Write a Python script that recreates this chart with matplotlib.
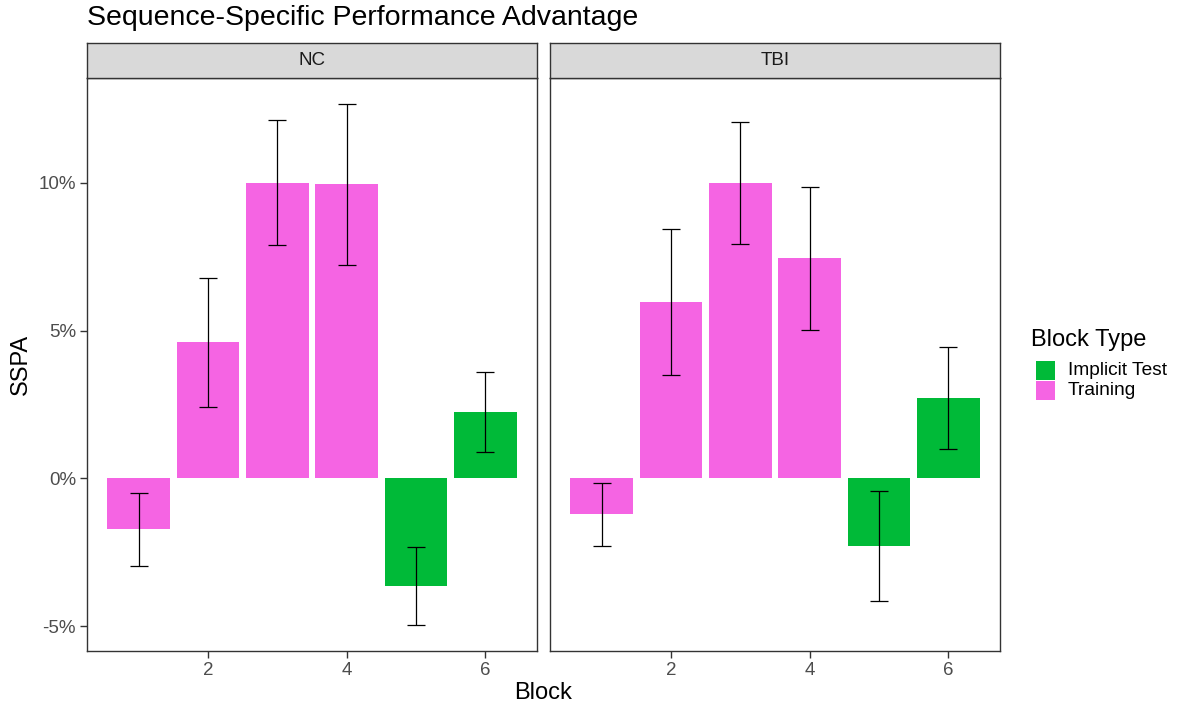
import matplotlib
matplotlib.use("Agg")
import matplotlib.pyplot as plt
from matplotlib.patches import Rectangle
from matplotlib.ticker import FuncFormatter

plt.rcParams['font.family'] = ['Liberation Sans', 'DejaVu Sans']

# Data: mean SSPA (%) and error-bar half-widths per block
blocks = [1, 2, 3, 4, 5, 6]
block_type = ["Training", "Training", "Training", "Training", "Implicit Test", "Implicit Test"]
groups = ["NC", "TBI"]
nc_mean = [-1.73, 4.60, 10.00, 9.94, -3.65, 2.23]
nc_err = [1.24, 2.18, 2.12, 2.72, 1.31, 1.35]
tbi_mean = [-1.22, 5.98, 10.00, 7.44, -2.28, 2.71]
tbi_err = [1.06, 2.47, 2.06, 2.42, 1.86, 1.73]
type_levels = ["Implicit Test", "Training"]
type_colors = {"Implicit Test": "#00BA38", "Training": "#F564E3"}

W, H = 1177, 709
fig = plt.figure(figsize=(W / 100, H / 100), dpi=100)

def fx(px):
    return px / W

def fy(py):
    return 1 - py / H

panel_lr = [(87, 537), (550, 1000)]
top_px, bot_px, strip_top = 78, 651, 43

means = [nc_mean, tbi_mean]
errs = [nc_err, tbi_err]

all_lo = min(min(m - e for m, e in zip(ms, es)) for ms, es in zip(means, errs))
all_hi = max(max(m + e for m, e in zip(ms, es)) for ms, es in zip(means, errs))
pad = 0.05 * (all_hi - all_lo)
ylim = (all_lo - pad, all_hi + pad)
xpad = 0.05 * (6.45 - 0.55)
xlim = (0.55 - xpad, 6.45 + xpad)

edge = "#333333"
axes = []
for i, (g, (l, r)) in enumerate(zip(groups, panel_lr)):
    ax = fig.add_axes([fx(l), fy(bot_px), fx(r) - fx(l), fy(top_px) - fy(bot_px)])
    axes.append(ax)
    cols = [type_colors[t] for t in block_type]
    ax.bar(blocks, means[i], width=0.9, color=cols, edgecolor="none", zorder=2)
    ax.errorbar(blocks, means[i], yerr=errs[i], fmt="none", ecolor="black",
                elinewidth=0.9, capsize=6.5, capthick=0.9, zorder=3)
    ax.set_xlim(*xlim)
    ax.set_ylim(*ylim)
    ax.set_xticks([2, 4, 6])
    ax.set_yticks([-5, 0, 5, 10])
    ax.yaxis.set_major_formatter(FuncFormatter(lambda v, p: f"{v:.0f}%"))
    for s in ax.spines.values():
        s.set_color(edge)
        s.set_linewidth(1.0)
    ax.tick_params(axis="both", colors=edge, length=5, width=1.0,
                   labelsize=13.5, labelcolor="#4D4D4D", pad=3)
    if i > 0:
        ax.tick_params(axis="y", left=False, labelleft=False)
    # facet strip
    sax = fig.add_axes([fx(l), fy(top_px), fx(r) - fx(l), fy(strip_top) - fy(top_px)])
    sax.set_facecolor("#D9D9D9")
    sax.set_xticks([])
    sax.set_yticks([])
    for s in sax.spines.values():
        s.set_color(edge)
        s.set_linewidth(1.0)
    sax.text(0.5, 0.5, g, ha="center", va="center", fontsize=13.5, color="#1A1A1A",
             transform=sax.transAxes)

fig.text(fx(21), fy((top_px + bot_px) / 2), "SSPA", rotation=90, ha="center",
         va="center", fontsize=17)
fig.text(fx((87 + 1000) / 2), fy(693), "Block", ha="center", va="center", fontsize=17)
fig.text(fx(87), fy(18), "Sequence-Specific Performance Advantage", ha="left",
         va="center", fontsize=20.5)

# legend for block type
fig.text(fx(1031), fy(340), "Block Type", ha="left", va="center", fontsize=17)
key_h = 19.5
for k, t in enumerate(type_levels):
    y0 = 361 + k * key_h
    fig.add_artist(Rectangle((fx(1036), fy(y0 + key_h - 0.5)), fx(19), (key_h - 0.5) / H,
                             facecolor=type_colors[t], edgecolor="none",
                             transform=fig.transFigure))
    fig.text(fx(1068), fy(y0 + key_h / 2), t, ha="left", va="center", fontsize=13.8)

fig.savefig("out.png", dpi=100)
